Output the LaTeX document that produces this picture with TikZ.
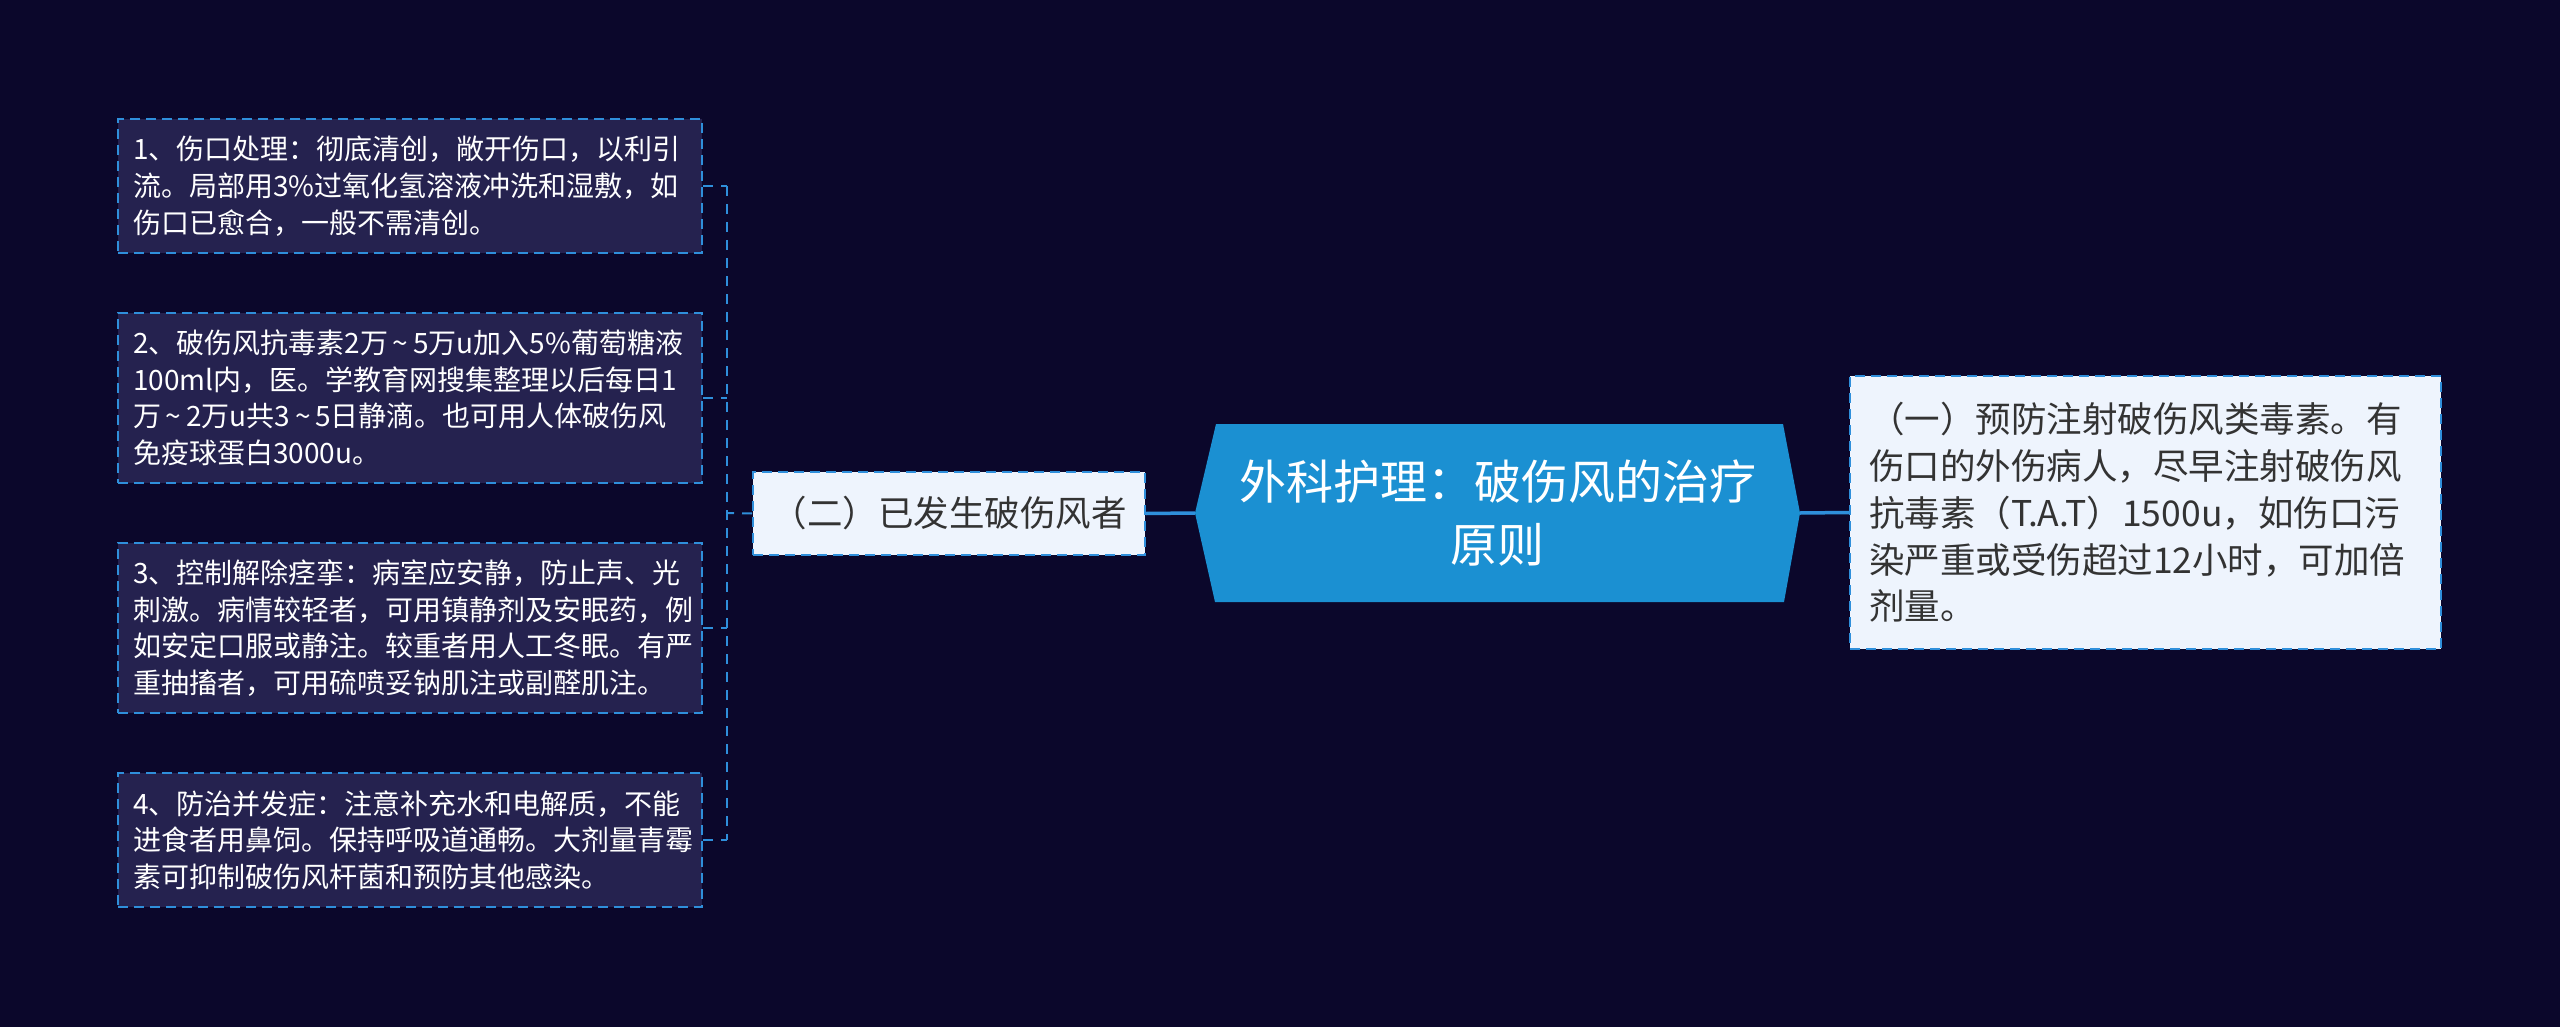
\documentclass[tikz,border=0pt]{standalone}
\usepackage{fontspec}
\setmainfont{Noto Sans CJK SC}
\definecolor{bgc}{RGB}{11,7,43}
\definecolor{boxfill}{RGB}{37,34,79}
\definecolor{dashblue}{RGB}{47,143,219}
\definecolor{rootblue}{RGB}{27,144,210}
\definecolor{lightfill}{RGB}{238,244,253}
\definecolor{darktext}{RGB}{51,51,51}
\newcommand{\wtil}{\hbox to 0.9em{\hss\textasciitilde\hss}}
\begin{document}
\begin{tikzpicture}[x=1pt,y=-1pt,
  leafbox/.style={draw=dashblue, line width=2pt, dash pattern=on 10pt off 6pt, fill=boxfill,
    text=white, align=left, text width=554pt, inner xsep=15pt, inner ysep=0pt,
    minimum width=584pt, font=\fontsize{28}{36.7}\selectfont},
  lightbox/.style={draw=dashblue, line width=2pt, dash pattern=on 10pt off 6pt, fill=lightfill,
    text=darktext, inner ysep=0pt, font=\fontsize{35.5}{46.7}\selectfont},
  treeline/.style={draw=dashblue, line width=2pt, dash pattern=on 10pt off 8pt},
  mainline/.style={draw=dashblue, line width=3.5pt}]
\useasboundingbox (0,0) rectangle (2560,1027);
\fill[bgc] (0,0) rectangle (2560,1027);
% central shape
\fill[rootblue] (1216,424) -- (1783,424) -- (1800,513) -- (1784,602) -- (1215,602) -- (1195,513) -- cycle;
\node[text=white, align=center, minimum width=605pt, minimum height=178pt, inner sep=0pt,
  font=\fontsize{47}{63}\selectfont] (root) at (1497.5,513) {外科护理：破伤风的治疗\\原则};
% right node
\node[lightbox, align=left, text width=553pt, inner xsep=19pt, minimum width=591pt, minimum height=273pt]
  (one) at (2145.5,512.5)
  {（一）预防注射破伤风类毒素。有\\伤口的外伤病人，尽早注射破伤风\\抗毒素（T.A.T）1500u，如伤口污\\染严重或受伤超过12小时，可加倍\\剂量。};
% left level-1 node
\node[lightbox, align=center, minimum width=392pt, minimum height=83pt, inner xsep=0pt]
  (two) at (949,513.5) {（二）已发生破伤风者};
% leaf boxes
\node[leafbox, minimum height=134pt] (b1) at (410,186)
  {1、伤口处理：彻底清创，敞开伤口，以利引\\流。局部用3\%过氧化氢溶液冲洗和湿敷，如\\伤口已愈合，一般不需清创。};
\node[leafbox, minimum height=170pt] (b2) at (410,398)
  {2、破伤风抗毒素2万\wtil 5万u加入5\%葡萄糖液\\100ml内，医。学教育网搜集整理以后每日1\\万\wtil 2万u共3\wtil 5日静滴。也可用人体破伤风\\免疫球蛋白3000u。};
\node[leafbox, minimum height=170pt] (b3) at (410,628)
  {3、控制解除痉挛：病室应安静，防止声、光\\刺激。病情较轻者，可用镇静剂及安眠药，例\\如安定口服或静注。较重者用人工冬眠。有严\\重抽搐者，可用硫喷妥钠肌注或副醛肌注。};
\node[leafbox, minimum height=134pt] (b4) at (410,840)
  {4、防治并发症：注意补充水和电解质，不能\\进食者用鼻饲。保持呼吸道通畅。大剂量青霉\\素可抑制破伤风杆菌和预防其他感染。};
% connectors
\coordinate (j) at (727,513);
\draw[mainline] (root.east) -- (one.west);
\draw[mainline] (root.west) -- (two.east);
\draw[treeline] (two.west) -- (j);
\draw[treeline] (b1.east -| j) -- (b4.east -| j);
\draw[treeline] (b1.east) -- (b1.east -| j);
\draw[treeline] (b2.east) -- (b2.east -| j);
\draw[treeline] (b3.east) -- (b3.east -| j);
\draw[treeline] (b4.east) -- (b4.east -| j);
\end{tikzpicture}
\end{document}
